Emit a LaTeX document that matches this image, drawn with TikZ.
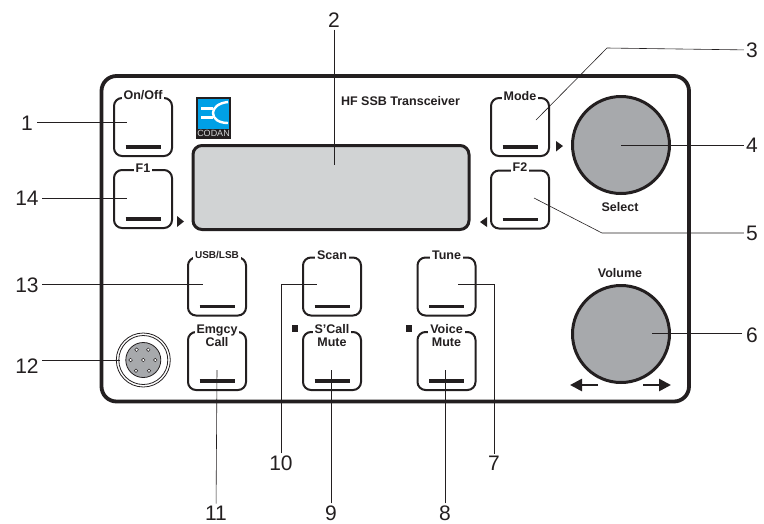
\documentclass[tikz,border=0pt]{standalone}
\usetikzlibrary{arrows.meta}
\usepackage{fontspec}
\setmainfont{Liberation Sans}
\definecolor{panelink}{HTML}{231F20}
\definecolor{screengray}{HTML}{D1D3D4}
\definecolor{knobgray}{HTML}{A7A9AC}
\definecolor{logoblue}{HTML}{00A0E6}
\tikzset{
  keybox/.style={draw=panelink, line width=2pt, rounded corners=8pt, minimum width=58pt, minimum height=58pt, inner sep=0pt},
  keybar/.style={draw=panelink, line width=3.2pt},
  keytext/.style={fill=white, inner sep=2pt, font=\bfseries\fontsize{12.5}{13}\selectfont, align=center, text=panelink},
  keysmall/.style={keytext, font=\bfseries\fontsize{10}{13}\selectfont},
  paneltext/.style={inner sep=0pt, font=\bfseries\fontsize{12.5}{13}\selectfont, text=panelink},
  knob/.style={circle, draw=panelink, line width=3pt, fill=knobgray, minimum size=97pt, inner sep=0pt},
  num/.style={inner sep=2pt, font=\fontsize{21}{24}\selectfont, text=panelink},
  leader/.style={draw=panelink, line width=0.6pt},
  tick/.style={fill=panelink, draw=none},
  turn/.style={draw=panelink, line width=2.6pt, -{Triangle[length=12pt,width=12pt]}},
}
\begin{document}
\begin{tikzpicture}[x=1pt, y=-1pt, >=stealth, line cap=butt]
\useasboundingbox (0,0) rectangle (764,523);

\draw [panelink, line width=3.8pt, rounded corners=15pt] (101.5,76) rectangle (689,401.5);
\node (screen) [draw=panelink, line width=3pt, fill=screengray, rounded corners=9pt, minimum width=276pt, minimum height=84pt, inner sep=0pt] at (331,187.5) {};
\node (title) [paneltext] at (400.5,101) {HF SSB Transceiver};

\foreach \name/\xc/\yc/\ly/\sty/\txt in {
    onoff/143/127/95/keytext/{On/Off}, fone/143/199/168/keytext/F1,
    mode/520/127/96/keytext/Mode, ftwo/520/199.5/167/keytext/F2,
    usb/217/286.5/255/keysmall/{USB/LSB}, scan/332/286.5/255/keytext/Scan,
    tune/446.5/286.5/255/keytext/Tune, emgcy/217/361/335.5/keytext/{Emgcy\\Call},
    scall/332/361/335.5/keytext/{S'Call\\Mute}, voice/446.5/361/335.5/keytext/{Voice\\Mute}}{
    \node (\name) [keybox] at (\xc,\yc) {};
    \draw [keybar] ([xshift=-17.5pt,yshift=10pt]\name.south) -- ([xshift=17.5pt,yshift=10pt]\name.south);
    \node (\name text) [\sty] at (\xc,\ly) {\txt};
}

\node (select) [knob] at (621,145) {};
\node (volume) [knob] at (621,334) {};
\node (selecttext) [paneltext] at (620,207) {Select};
\node (volumetext) [paneltext] at (620,273) {Volume};
\draw [turn] (598,385) -- (570,385);
\draw [turn] (643,385) -- (671,385);

\fill [tick] (177,216) -- (184,221.5) -- (177,227) -- cycle;
\fill [tick] (556,141) -- (563,146) -- (556,151.5) -- cycle;
\fill [tick] (487,217) -- (480,222) -- (487,227) -- cycle;
\fill [tick] (292,325) rectangle (297.5,332);
\fill [tick] (406,325) rectangle (412,332);

\fill [panelink] (196,97) rectangle (231,139);
\fill [logoblue] (198,99) rectangle (229,129);
\draw [white, line width=3pt] (201,108) -- (213,108) (201,117) -- (213,117);
\draw [white, line width=2.4pt] (228,102) .. controls (218,103) and (213,108) .. (213,113) .. controls (213,119) and (219,123) .. (228,123);
\node (logotext) [inner sep=0pt, text=screengray, font=\fontsize{9}{10}\selectfont] at (213.5,133.5) {CODAN};

\node (jack) [circle, draw=panelink, line width=0.8pt, fill=knobgray, minimum size=35pt, inner sep=0pt] at (143.3,360) {};
\draw [panelink, line width=0.8pt] (jack) circle (24.5) (jack) circle (27);
\foreach \px/\py in {-6.7/-10.3, 5/-10.3, -12.7/0, 0/0, 12/0, -7.3/10.7, 5.7/10.7}{
    \draw [panelink, line width=0.5pt, fill=white] (143.3+\px,360+\py) circle (1.8);
}

\foreach \id/\xc/\yc in {1/27/123, 14/27/198, 13/27/285, 12/27/366, 2/334/20, 3/752/50, 4/752/145,
    5/752/233, 6/752/335, 7/494/463, 8/445/513, 9/331/513, 10/281/463, 11/216/513}{
    \node (n\id) [num] at (\xc,\yc) {\id};
}

\coordinate (b3) at (607,48);
\coordinate (b5) at (602,233);
\coordinate (b7) at (494,284);
\coordinate (b10) at (281,284);

\draw [leader] (37,122.5) -- (127,122.5);
\draw [leader] (42,198) -- (127,198);
\draw [leader] (42,284) -- (203,284);
\draw [leader] (42,360) -- (120,360);
\draw [leader] (n2) -- (334,165);
\draw [leader] (n3) -- (b3) -- (536,120);
\draw [leader] (n4) -- (select.center);
\draw [leader] (n5) -- (b5) -- (534,198);
\draw [leader] (742,333) -- (652,333);
\draw [leader] (n7) -- (b7) -- (458,284);
\draw [leader] (n8) -- (445,370);
\draw [leader] (n9) -- (331,370);
\draw [leader] (n10) -- (b10) -- (317,284);
\draw [leader] (n11) -- (217,370);
\end{tikzpicture}
\end{document}
